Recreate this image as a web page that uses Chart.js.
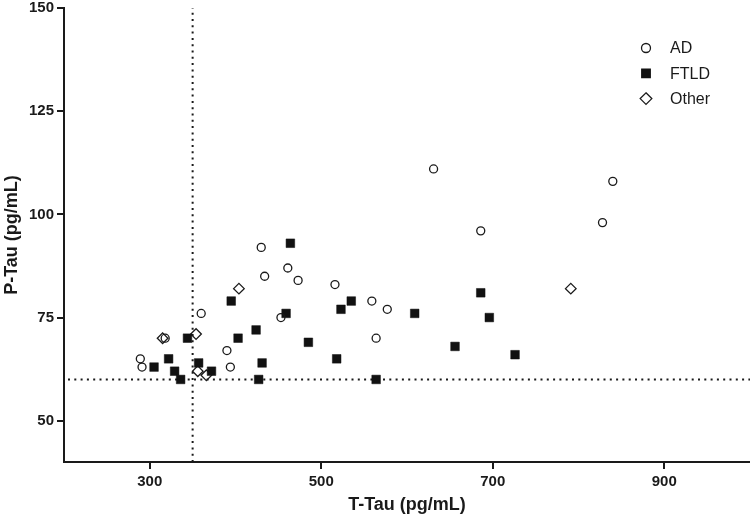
<!DOCTYPE html>
<html>
<head>
<meta charset="utf-8">
<script src="https://cdn.jsdelivr.net/npm/chart.js@4/dist/chart.umd.min.js"></script>
<style>
  html, body { margin: 0; padding: 0; background: #fff; }
  #wrap { width: 750px; height: 517px; position: relative; }
</style>
</head>
<body>
<div id="wrap"><canvas id="tauChart"></canvas></div>
<script>
// T-Tau (x) / P-Tau (y) values, pg/mL
const adTTau = [289, 291, 318, 360, 390, 394, 430, 434, 453, 461, 473, 516, 559, 564, 577, 631, 686, 828, 840];
const adPTau = [65, 63, 70, 76, 67, 63, 92, 85, 75, 87, 84, 83, 79, 70, 77, 111, 96, 98, 108];

const ftldTTau = [305, 322, 329, 336, 344, 357, 372, 395, 403, 424, 427, 431, 459, 464, 485, 518, 523, 535, 564, 609, 656, 686, 696, 726];
const ftldPTau = [63, 65, 62, 60, 70, 64, 62, 79, 70, 72, 60, 64, 76, 93, 69, 65, 77, 79, 60, 76, 68, 81, 75, 66];

const otherTTau = [315, 354, 356, 366, 404, 791];
const otherPTau = [70, 71, 62, 61, 82, 82];

const seriesLabels = ['AD', 'FTLD', 'Other'];
const xTicks = [300, 500, 700, 900];
const yTicks = [50, 75, 100, 125, 150];
const cutoffTTau = 350;
const cutoffPTau = 60;

const ink = '#1a1a1a';
const fontFamily = "'Liberation Sans', Arial, sans-serif";

function pairs(xs, ys) {
    return xs.map((x, i) => ({ x: x, y: ys[i] }));
}

// marker drawing for the legend
function drawMarker(ctx, style, x, y, r, fill, stroke, lw) {
    ctx.save();
    ctx.beginPath();
    if (style === 'circle') {
        ctx.arc(x, y, r, 0, Math.PI * 2);
    } else if (style === 'rect') {
        const s = r * Math.SQRT1_2;
        ctx.rect(x - s, y - s, 2 * s, 2 * s);
    } else {
        ctx.moveTo(x, y - r);
        ctx.lineTo(x + r, y);
        ctx.lineTo(x, y + r);
        ctx.lineTo(x - r, y);
        ctx.closePath();
    }
    ctx.fillStyle = fill;
    ctx.fill();
    ctx.lineWidth = lw;
    ctx.strokeStyle = stroke;
    ctx.stroke();
    ctx.restore();
}

// dotted cut-off lines
const cutoffLines = {
    id: 'cutoffLines',
    beforeDatasetsDraw(chart) {
        const { ctx, chartArea, scales } = chart;
        const px = scales.x.getPixelForValue(cutoffTTau);
        const py = scales.y.getPixelForValue(cutoffPTau);
        ctx.save();
        ctx.strokeStyle = ink;
        ctx.lineWidth = 2;
        ctx.setLineDash([2, 4.3]);
        ctx.beginPath();
        ctx.moveTo(px, chartArea.bottom);
        ctx.lineTo(px, chartArea.top);
        ctx.stroke();
        ctx.beginPath();
        ctx.moveTo(chartArea.left + 4, py);
        ctx.lineTo(chartArea.right, py);
        ctx.stroke();
        ctx.restore();
    }
};

// legend in the top right corner
const cornerLegend = {
    id: 'cornerLegend',
    afterDraw(chart) {
        const ctx = chart.ctx;
        const sizes = [4.5, 6, 5.8];
        chart.data.datasets.forEach((ds, i) => {
            const y = 48 + i * 25.3;
            drawMarker(ctx, ds.pointStyle, 646, y, sizes[i], ds.pointBackgroundColor, ds.pointBorderColor, 1.3);
            ctx.save();
            ctx.fillStyle = ink;
            ctx.font = '16px ' + fontFamily;
            ctx.textBaseline = 'middle';
            ctx.textAlign = 'left';
            ctx.fillText(ds.label, 670, y + 1);
            ctx.restore();
        });
    }
};

const ctx = document.getElementById('tauChart').getContext('2d');
new Chart(ctx, {
    type: 'scatter',
    data: {
        datasets: [{
            label: seriesLabels[0],
            data: pairs(adTTau, adPTau),
            pointStyle: 'circle',
            pointRadius: 4,
            pointBorderWidth: 1.3,
            pointBackgroundColor: 'rgba(0,0,0,0)',
            pointBorderColor: ink,
        }, {
            label: seriesLabels[1],
            data: pairs(ftldTTau, ftldPTau),
            pointStyle: 'rect',
            pointRadius: 6.1,
            pointBorderWidth: 0.5,
            pointBackgroundColor: '#111',
            pointBorderColor: '#111',
        }, {
            label: seriesLabels[2],
            data: pairs(otherTTau, otherPTau),
            pointStyle: 'rectRot',
            pointRadius: 5.3,
            pointBorderWidth: 1.3,
            pointBackgroundColor: 'rgba(0,0,0,0)',
            pointBorderColor: ink,
        }]
    },
    options: {
        responsive: true,
        maintainAspectRatio: false,
        animation: false,
        events: [],
        layout: {
            autoPadding: false,
            padding: { top: 8, right: 0, bottom: 0, left: 0 }
        },
        plugins: {
            legend: { display: false },
            tooltip: { enabled: false }
        },
        scales: {
            x: {
                type: 'linear',
                min: 200,
                max: 1000,
                afterBuildTicks: (scale) => { scale.ticks = xTicks.map(v => ({ value: v })); },
                afterFit: (scale) => { scale.height = 55; scale.paddingRight = 0; },
                border: { display: true, color: ink, width: 2 },
                grid: { drawOnChartArea: false, drawTicks: true, tickLength: 7, color: ink, lineWidth: 2 },
                ticks: {
                    color: ink,
                    padding: 4,
                    maxRotation: 0,
                    font: { family: fontFamily, size: 15, weight: 'bold' }
                },
                title: {
                    display: true,
                    text: 'T-Tau (pg/mL)',
                    color: ink,
                    padding: { top: 0, bottom: 1 },
                    font: { family: fontFamily, size: 18, weight: 'bold' }
                }
            },
            y: {
                type: 'linear',
                min: 40,
                max: 150,
                afterBuildTicks: (scale) => { scale.ticks = yTicks.map(v => ({ value: v })); },
                afterFit: (scale) => { scale.width = 64; scale.paddingTop = 0; },
                border: { display: true, color: ink, width: 2 },
                grid: { drawOnChartArea: false, drawTicks: true, tickLength: 7, color: ink, lineWidth: 2 },
                ticks: {
                    color: ink,
                    padding: 3,
                    font: { family: fontFamily, size: 15, weight: 'bold' }
                },
                title: {
                    display: true,
                    text: 'P-Tau (pg/mL)',
                    color: ink,
                    padding: { top: 1, bottom: 0 },
                    font: { family: fontFamily, size: 18, weight: 'bold' }
                }
            }
        }
    },
    plugins: [cutoffLines, cornerLegend]
});
</script>
</body>
</html>
